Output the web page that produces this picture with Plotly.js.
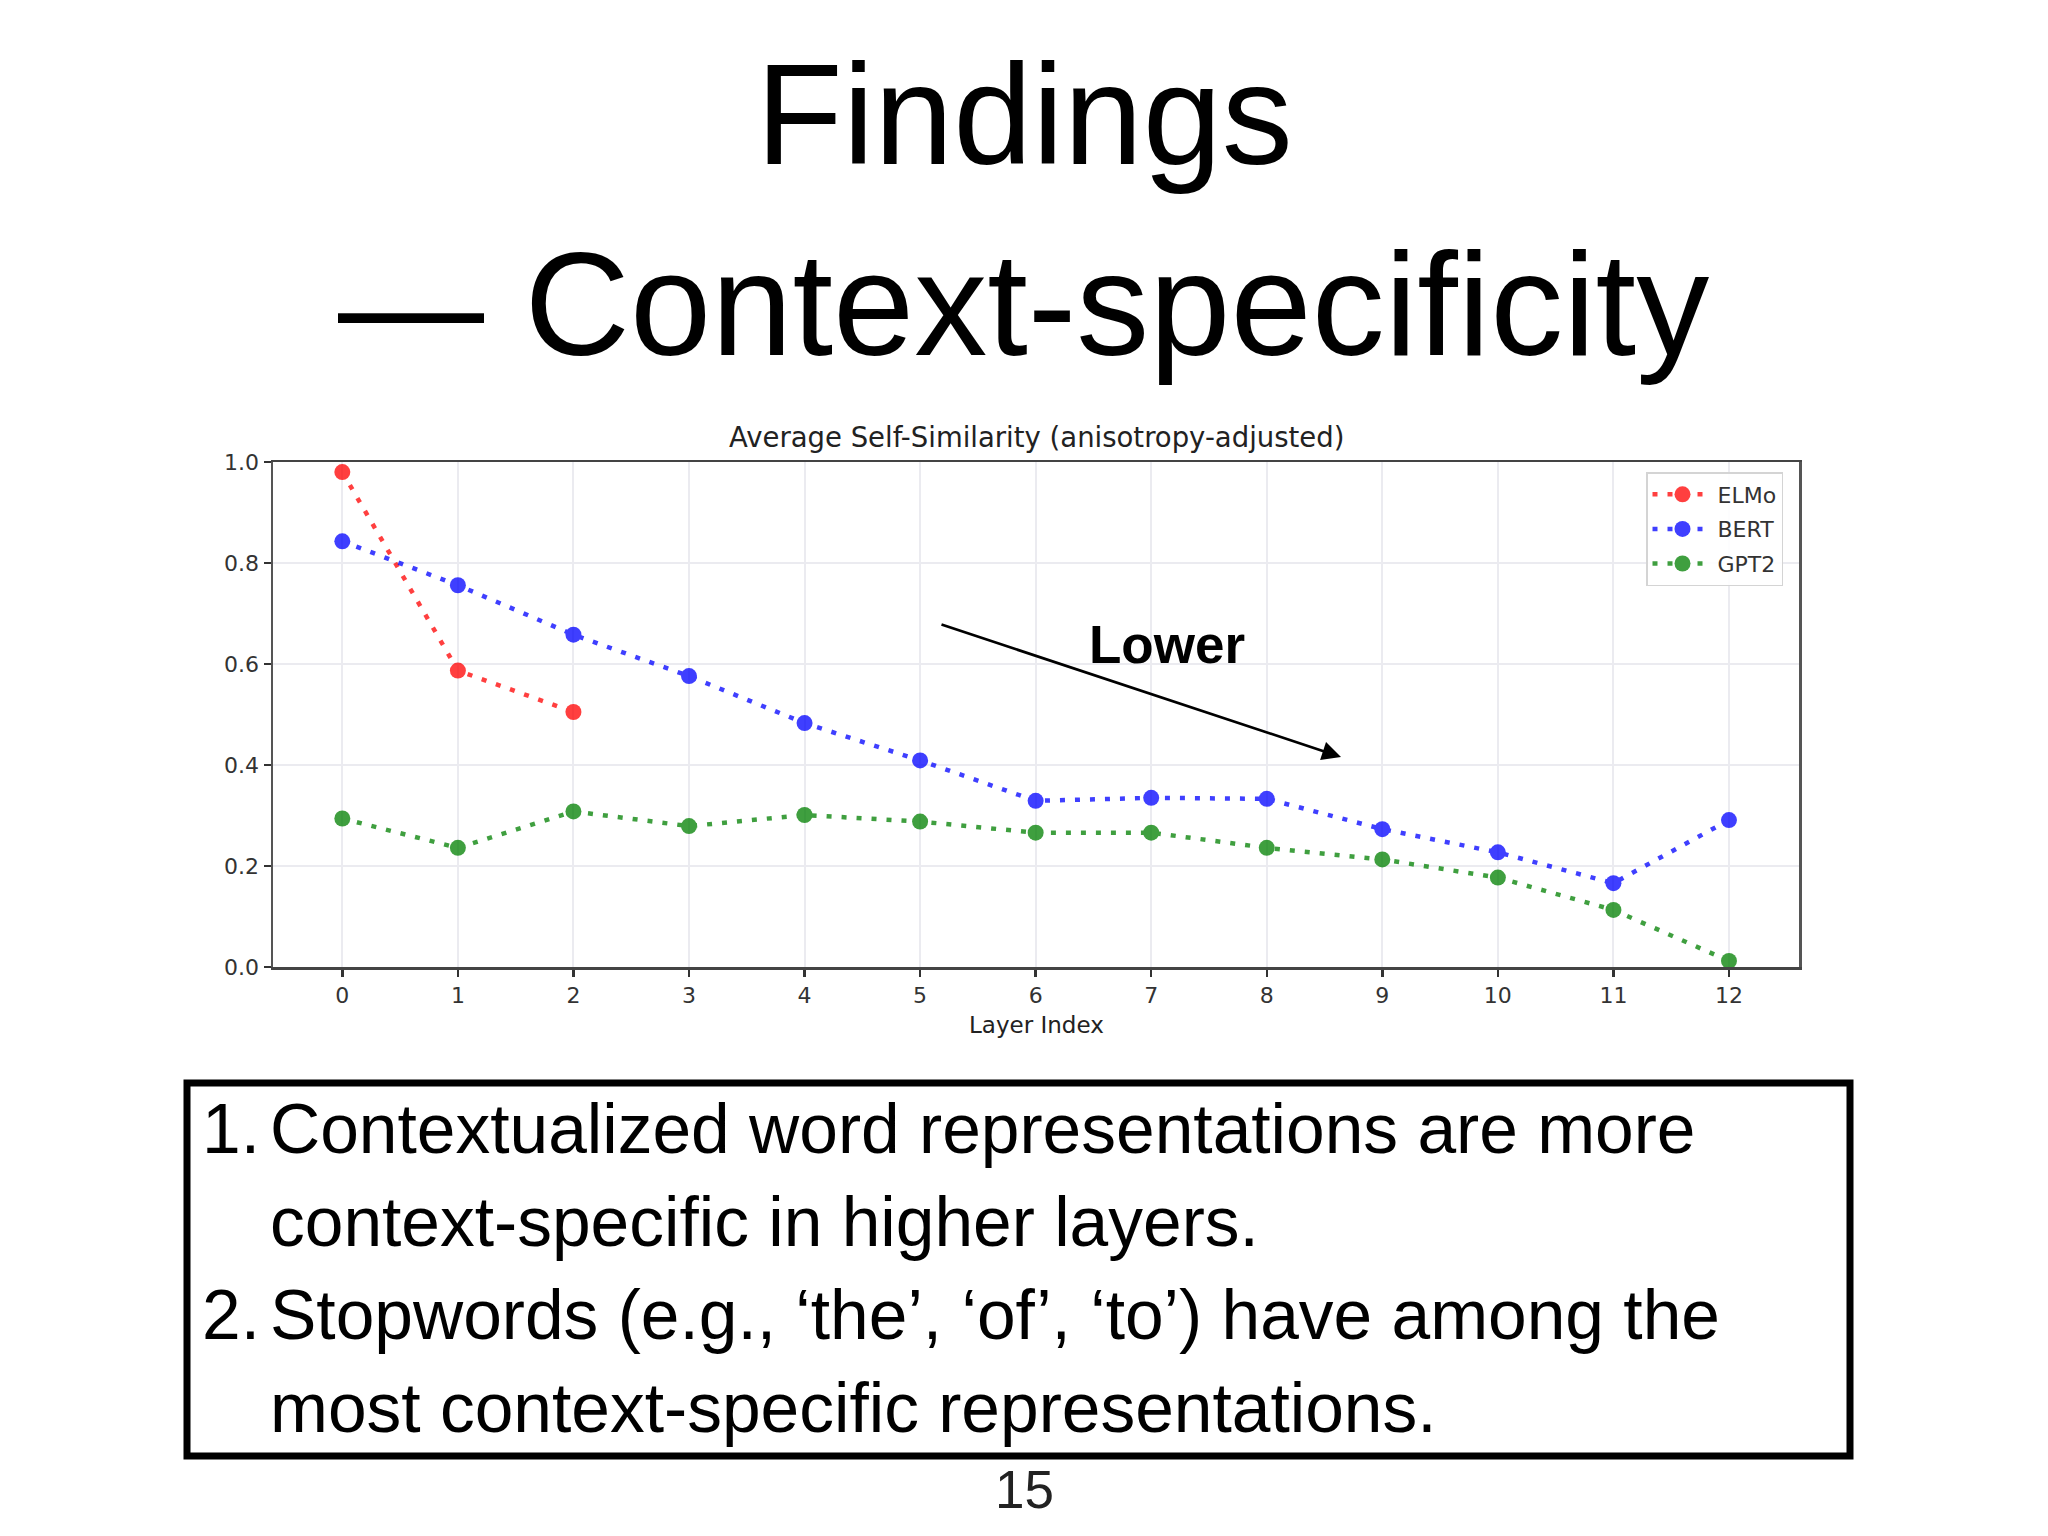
<!DOCTYPE html>
<html>
<head>
<meta charset="utf-8">
<script src="https://cdn.plot.ly/plotly-3.0.1.min.js"></script>
<style>
html,body{margin:0;padding:0;background:#fff;}
#chart{width:2048px;height:1536px;}
</style>
</head>
<body>
<div id="chart"></div>
<script>
// ---- data ----
const layers = [0,1,2,3,4,5,6,7,8,9,10,11,12];
const elmoLayers = [0,1,2];
const elmo = [0.980, 0.587, 0.505];
const bert = [0.843, 0.756, 0.658, 0.576, 0.483, 0.409, 0.329, 0.335, 0.333, 0.273, 0.227, 0.166, 0.291];
const gpt2 = [0.294, 0.236, 0.308, 0.279, 0.301, 0.288, 0.266, 0.266, 0.236, 0.213, 0.177, 0.113, 0.012];
const seriesNames = ["ELMo", "BERT", "GPT2"];
const yTicks = [0, 0.2, 0.4, 0.6, 0.8, 1.0];
const yTickText = ["0.0", "0.2", "0.4", "0.6", "0.8", "1.0"];
const pageTitle1 = "Findings";
const pageTitle2 = "\u2014 Context-specificity";
const chartTitle = "Average Self-Similarity (anisotropy-adjusted)";
const xTitle = "Layer Index";
const arrowLabel = "Lower";
const bullets = [
  ["1.", "Contextualized word representations are more"],
  ["", "context-specific in higher layers."],
  ["2.", "Stopwords (e.g., \u2018the\u2019, \u2018of\u2019, \u2018to\u2019) have among the"],
  ["", "most context-specific representations."]
];
const pageNumber = "15";

// ---- layout helpers (pixel -> paper) ----
const W = 2048, H = 1536;
const L = 273, R = 1799, T = 462, B = 967;
const px = x => (x - L) / (R - L);
const py = y => (B - y) / (B - T);

const chartFont = "DejaVu Sans, sans-serif";
const slideFont = "Liberation Sans, Arial, sans-serif";

function mk(name, x, y, color) {
  return {
    type: "scatter", mode: "lines+markers", name: name, legendgroup: name,
    x: x, y: y, opacity: 0.75,
    line: {color: color, width: 4.5, dash: "5px,10px"},
    marker: {color: color, size: 16}
  };
}
const traces = [
  mk(seriesNames[0], elmoLayers, elmo, "#ff0000"),
  mk(seriesNames[1], layers, bert, "#0000ff"),
  mk(seriesNames[2], layers, gpt2, "#008000")
];

const annotations = [];
function txt(text, x, y, size, opts) {
  opts = opts || {};
  annotations.push(Object.assign({
    text: text, xref: "paper", yref: "paper", x: px(x), y: py(y),
    xanchor: "center", yanchor: "middle", showarrow: false,
    font: {family: slideFont, size: size, color: "#000"}
  }, opts));
}
txt(pageTitle1, 1024, 114, 142);
txt(pageTitle2, 1023, 304, 146);
txt(chartTitle, 1036, 437, 27.5, {font: {family: chartFont, size: 27.5, color: "#222"}});
txt(xTitle, 1036, 1025, 23, {font: {family: chartFont, size: 23, color: "#222"}});
txt(arrowLabel, 1167, 644, 53, {font: {family: slideFont, size: 53, color: "#000", weight: "bold"}});
const lineY = [1129, 1222, 1315, 1408];
bullets.forEach((b, i) => {
  if (b[0]) txt(b[0], 262, lineY[i], 69.5, {xanchor: "right"});
  txt(b[1], 268, lineY[i], 69.5, {xanchor: "left"});
});
txt(pageNumber, 1024, 1489, 53, {font: {family: slideFont, size: 53, color: "#222"}});

// arrow
annotations.push({
  xref: "paper", yref: "paper", x: px(1341), y: py(757), text: "",
  showarrow: true, axref: "pixel", ayref: "pixel", ax: -401, ay: -133,
  arrowhead: 2, arrowsize: 1.4, arrowwidth: 2.7, arrowcolor: "#000"
});

const shapes = [
  {type: "rect", xref: "paper", yref: "paper", x0: px(187), x1: px(1850), y0: py(1083), y1: py(1456),
   line: {color: "#000", width: 7}, fillcolor: "rgba(0,0,0,0)", layer: "above"}
];

const layout = {
  width: W, height: H,
  margin: {l: L, r: W - R, t: T, b: H - B, pad: 0},
  paper_bgcolor: "#fff", plot_bgcolor: "#fff",
  showlegend: true,
  legend: {
    x: px(1646), y: py(472), xanchor: "left", yanchor: "top",
    traceorder: "grouped", tracegroupgap: 3, itemwidth: 60,
    bgcolor: "rgba(255,255,255,0.9)", bordercolor: "#d4d4d4", borderwidth: 1.5,
    font: {family: chartFont, size: 22, color: "#333"}
  },
  xaxis: {
    range: [-0.6, 12.606], tickmode: "array", tickvals: layers, ticktext: layers.map(String),
    showgrid: true, gridcolor: "#ebebf0", gridwidth: 2, zeroline: false,
    showline: true, linecolor: "#444", linewidth: 2.5, mirror: true,
    ticks: "outside", ticklen: 7, tickwidth: 2.5, tickcolor: "#333",
    tickfont: {family: chartFont, size: 22, color: "#333"}
  },
  yaxis: {
    range: [0, 1], tickmode: "array", tickvals: yTicks, ticktext: yTickText,
    showgrid: true, gridcolor: "#ebebf0", gridwidth: 2, zeroline: false,
    showline: true, linecolor: "#555", linewidth: 2.5, mirror: true,
    ticks: "outside", ticklen: 7, tickwidth: 2.5, tickcolor: "#333",
    tickfont: {family: chartFont, size: 22, color: "#333"}
  },
  annotations: annotations,
  shapes: shapes
};

Plotly.newPlot("chart", traces, layout, {displayModeBar: false, staticPlot: true});
</script>
</body>
</html>
